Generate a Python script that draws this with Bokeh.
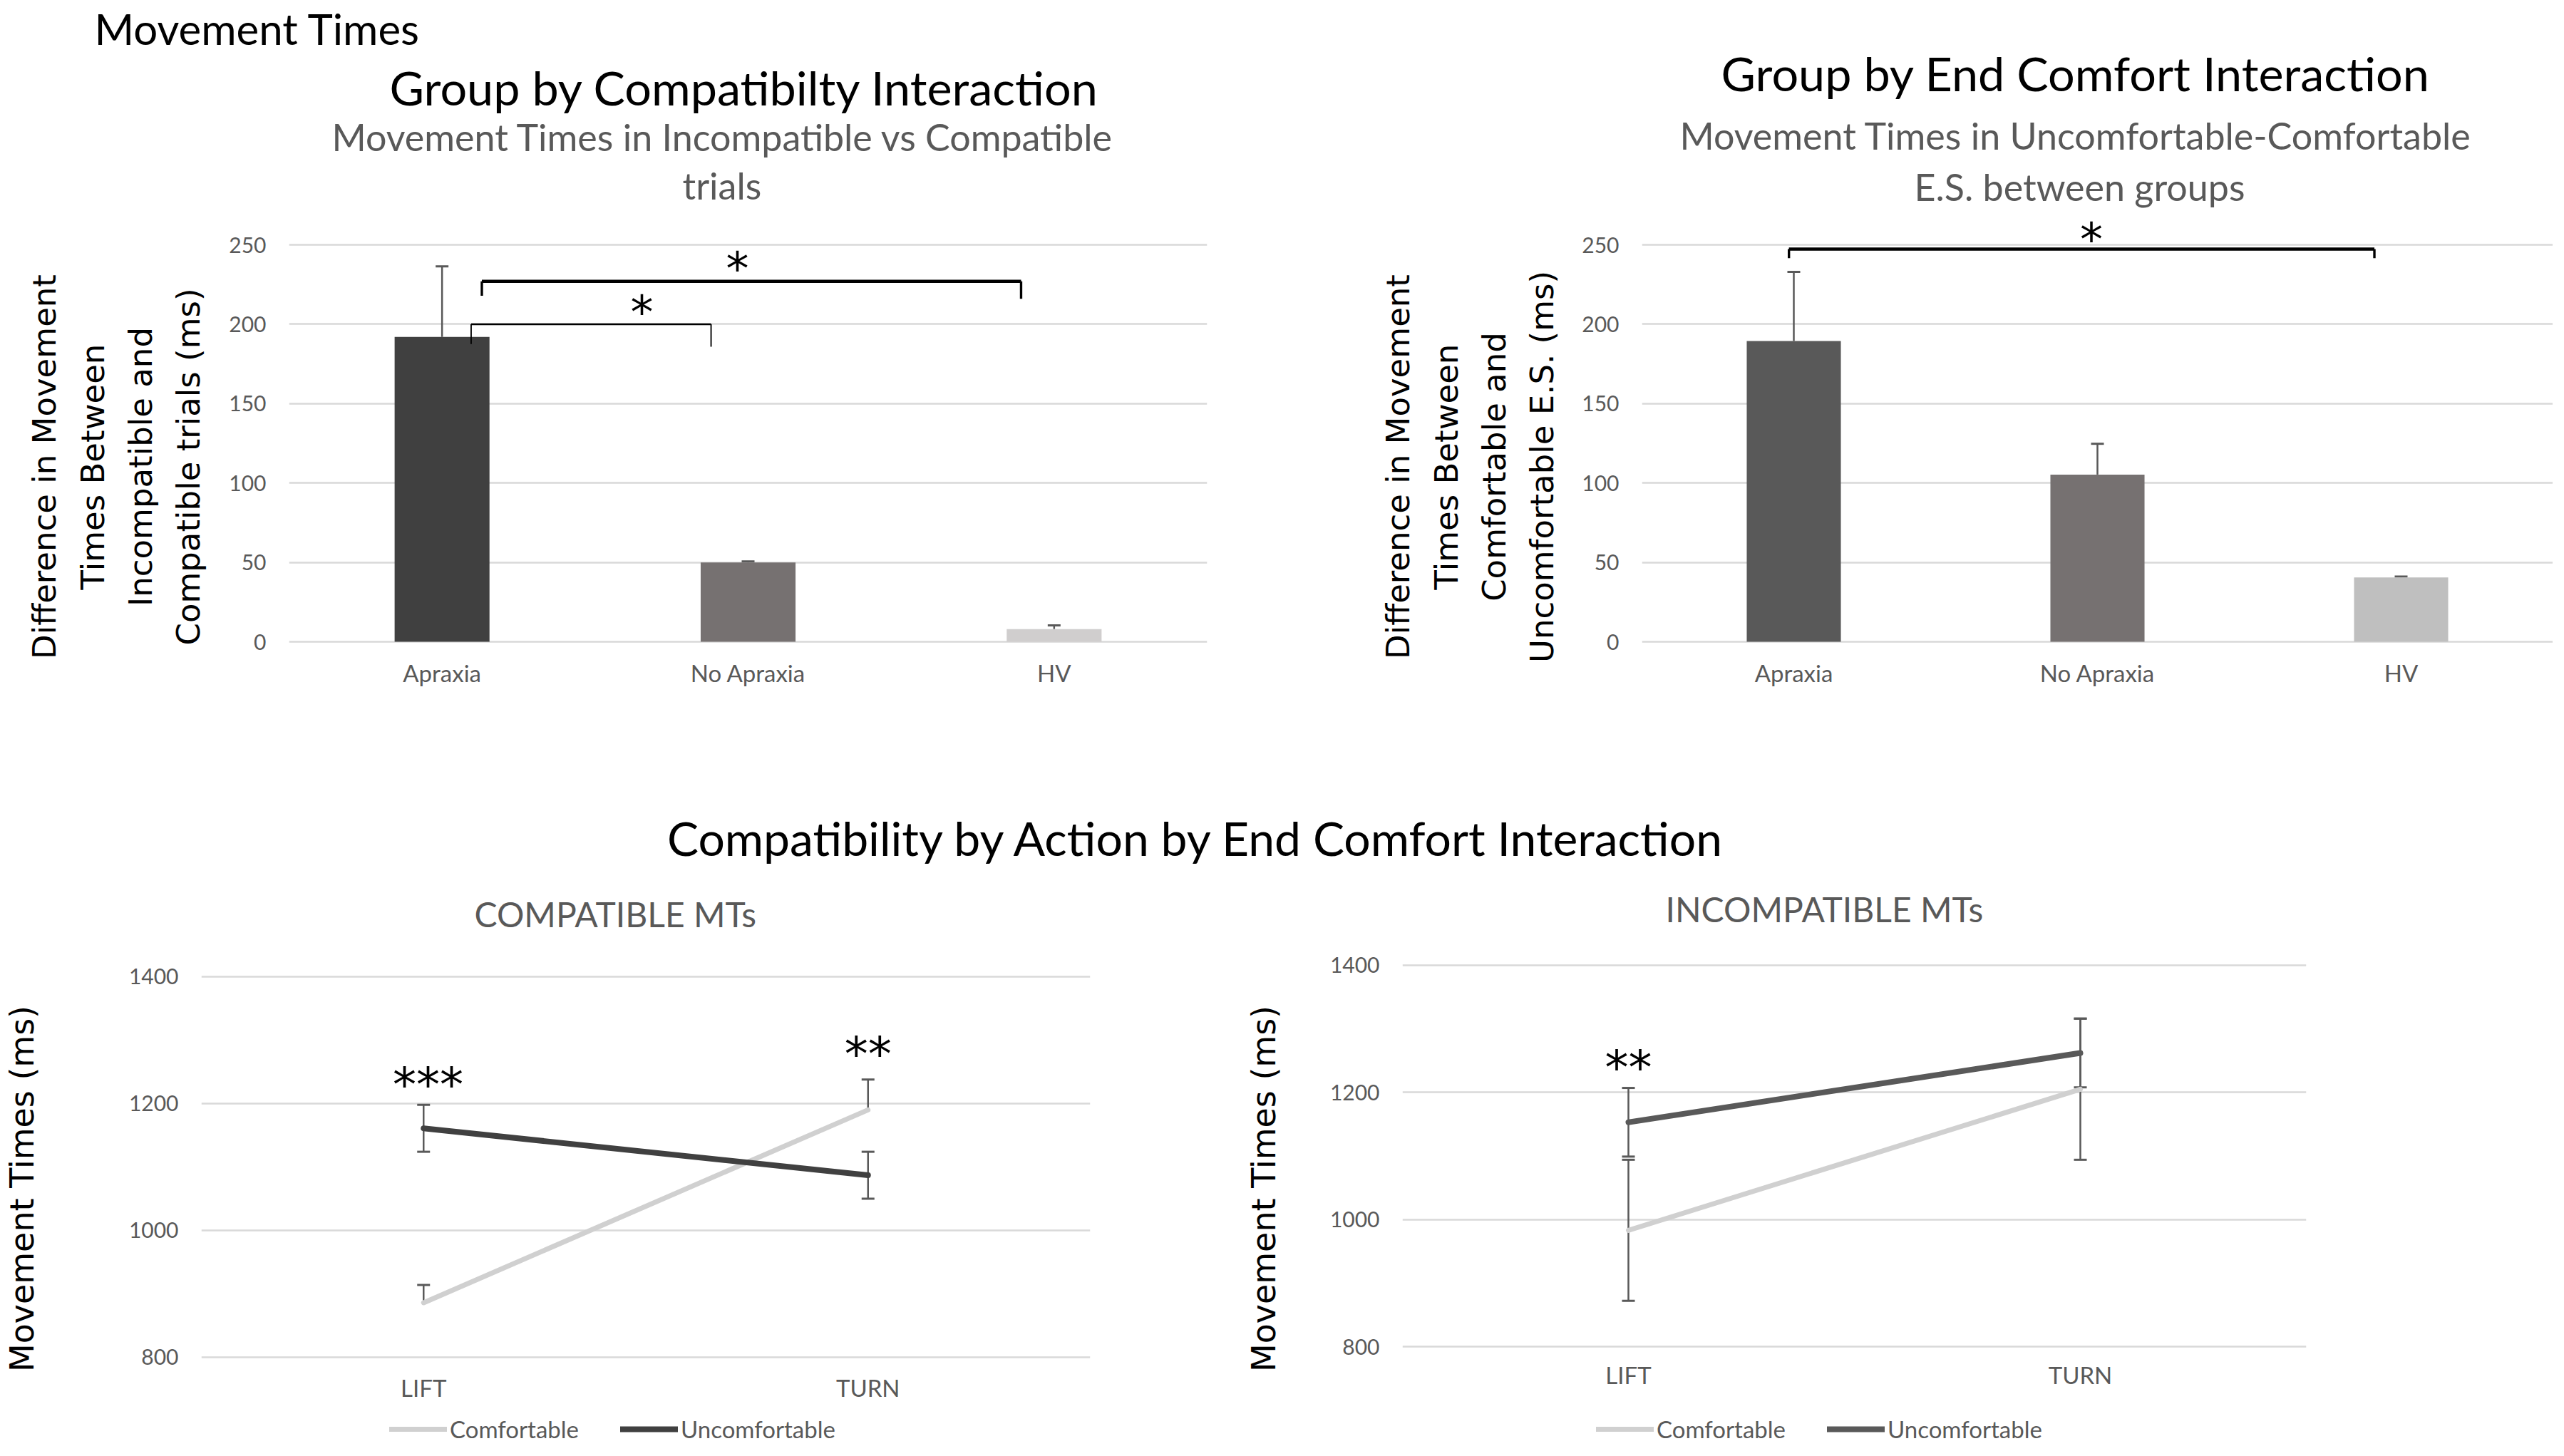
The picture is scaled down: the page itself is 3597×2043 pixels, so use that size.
from bokeh.plotting import figure
from bokeh.models import (Range1d, FixedTicker, Title, Whisker, TeeHead, ColumnDataSource,
                          Legend, LegendItem)
from bokeh.layouts import column, row
from bokeh.embed import file_html
from bokeh.resources import INLINE
from bokeh.core.properties import value
from bokeh.core.validation import silence
from bokeh.core.validation.warnings import MISSING_RENDERERS

silence(MISSING_RENDERERS, True)

LATO = "Lato"
DEJA = "DejaVu Sans"
GRAY_TXT = "#595959"
GRID = "#D9D9D9"
ERR = "#595959"

# ---------------- data ----------------
groups = ["Apraxia", "No Apraxia", "HV"]
compat_diff = [192.0, 50.0, 8.0]
compat_err = [44.4, 0.6, 2.3]
compat_colors = ["#404040", "#767171", "#D0CECE"]

comfort_diff = [189.4, 105.3, 40.5]
comfort_err = [43.5, 19.4, 0.6]
comfort_colors = ["#595959", "#767171", "#BFBFBF"]

bar_ticks = [0, 50, 100, 150, 200, 250]

actions = ["LIFT", "TURN"]
series_names = ["Comfortable", "Uncomfortable"]
compat_comf = [886, 1190]
compat_comf_err = [28, 48]          # plus-only
compat_unc = [1161, 1087]
compat_unc_err = [37, 37]
incomp_comf = [983, 1205]
incomp_comf_err = [111, 111]
incomp_unc = [1153, 1262]
incomp_unc_err = [54, 54]
line_ticks = [800, 1000, 1200, 1400]

# significance brackets (x in category units, y in data units)
tl_br_x0 = [0.095, 0.13]
tl_br_x1 = [0.879, 1.892]
tl_br_y = [200.0, 227.0]
tl_br_leg0 = [187.5, 217.9]
tl_br_leg1 = [185.8, 216.0]
tl_br_w = [2.5, 4.5]
tl_star_x = [0.653, 0.965]
tl_star_y = [207.4, 235.1]
tl_star_txt = ["*", "*"]

tr_br_x0 = [-0.016]
tr_br_x1 = [1.912]
tr_br_y = [247.3]
tr_br_leg0 = [241.6]
tr_br_leg1 = [241.6]
tr_br_w = [4.5]
tr_star_x = [0.98]
tr_star_y = [253.3]
tr_star_txt = ["*"]

bl_star_x = [0.01, 1.0]
bl_star_y = [1228.7, 1278.0]
bl_star_txt = ["***", "**"]

br_star_x = [0.0]
br_star_y = [1239.0]
br_star_txt = ["**"]


# ---------------- helpers ----------------
def base_fig(width, height, xr, yr, mbl, mbr, mbt, mbb):
    p = figure(width=width, height=height, x_range=xr, y_range=yr,
               min_border_left=mbl, min_border_right=mbr,
               min_border_top=mbt, min_border_bottom=mbb,
               output_backend="svg", toolbar_location=None, title=None)
    p.outline_line_color = None
    p.background_fill_color = "white"
    p.border_fill_color = "white"
    return p


def style_axes(p, yticks, xlabels, x_loc, xstand, ylabel, ylabel_size, ylabel_standoff, lh):
    p.xgrid.visible = False
    p.ygrid.ticker = FixedTicker(ticks=yticks)
    p.ygrid.grid_line_color = GRID
    p.ygrid.grid_line_width = 2.5
    p.yaxis.ticker = FixedTicker(ticks=yticks)
    p.xaxis.ticker = FixedTicker(ticks=list(range(len(xlabels))))
    p.xaxis.major_label_overrides = {i: t for i, t in enumerate(xlabels)}
    p.xaxis.fixed_location = x_loc
    for ax in (p.xaxis[0], p.yaxis[0]):
        ax.axis_line_color = None
        ax.major_tick_line_color = None
        ax.minor_tick_line_color = None
        ax.major_tick_out = 0
        ax.major_tick_in = 0
        ax.major_label_text_font = LATO
        ax.major_label_text_color = GRAY_TXT
    p.xaxis.major_label_text_font_size = "33px"
    p.xaxis.major_label_standoff = xstand
    p.yaxis.major_label_text_font_size = "30px"
    p.yaxis.major_label_standoff = 32
    p.yaxis.axis_label = ylabel
    p.yaxis.axis_label_text_font = DEJA
    p.yaxis.axis_label_text_font_size = ylabel_size
    p.yaxis.axis_label_text_font_style = "normal"
    p.yaxis.axis_label_text_color = "black"
    p.yaxis.axis_label_standoff = ylabel_standoff
    p.yaxis.axis_label_text_line_height = lh


def add_title(p, text, size, color, standoff, offset=None):
    if offset is None:
        t = Title(text=text, align="center", standoff=standoff)
    else:
        t = Title(text=text, align="left", offset=offset, standoff=standoff)
    t.text_font = LATO
    t.text_font_size = size
    t.text_color = color
    t.text_font_style = "normal"
    p.add_layout(t, "above")


def add_whiskers(p, base, vals, errs, lower_too):
    upper = [v + e for v, e in zip(vals, errs)]
    lower = [v - e for v, e in zip(vals, errs)] if lower_too else list(vals)
    src = ColumnDataSource(dict(base=base, lower=lower, upper=upper))
    w = Whisker(source=src, base="base", lower="lower", upper="upper",
                line_color=ERR, line_width=2.5,
                upper_head=TeeHead(size=18, line_color=ERR, line_width=3),
                lower_head=TeeHead(size=18, line_color=ERR, line_width=3) if lower_too else None)
    p.add_layout(w)


def add_brackets(p, x0, x1, y, leg0, leg1, widths):
    legw = [w * 0.75 for w in widths]
    p.segment(x0=x0, y0=y, x1=x1, y1=y, line_color="black", line_width=widths)
    p.segment(x0=x0, y0=y, x1=x0, y1=leg0, line_color="black", line_width=legw)
    p.segment(x0=x1, y0=y, x1=x1, y1=leg1, line_color="black", line_width=legw)


def add_stars(p, xs, ys, txt, size):
    p.text(x=xs, y=ys, text=txt, text_font=value(DEJA), text_font_size=size,
           text_align="center", text_baseline="alphabetic", text_color="black")


# ---------------- top row (frames share top/bottom) ----------------
xs3 = list(range(len(groups)))
TOP_YR = (-48.9, 269.3)

tl = base_fig(1842, 1100, Range1d(-0.5, 2.5), Range1d(*TOP_YR), 405, 149, 300, 91)
style_axes(tl, bar_ticks, groups, 0, 23,
           "Difference in Movement\nTimes Between\nIncompatible and\nCompatible trials (ms)",
           "45px", 27, 1.27)
tl.vbar(x=xs3, top=compat_diff, bottom=0, width=0.31, fill_color=compat_colors, line_color=None)
add_whiskers(tl, xs3, compat_diff, compat_err, False)
add_brackets(tl, tl_br_x0, tl_br_x1, tl_br_y, tl_br_leg0, tl_br_leg1, tl_br_w)
add_stars(tl, tl_star_x, tl_star_y, tl_star_txt, "64px")
add_title(tl, "trials", "52px", GRAY_TXT, 20, offset=552)
add_title(tl, "Movement Times in Incompatible vs Compatible", "52px", GRAY_TXT, -13, offset=60)
add_title(tl, "Group by Compatibilty Interaction", "66.5px", "black", 8, offset=141)
add_title(tl, "Movement Times", "60px", "black", 0, offset=-273)

tr = base_fig(1739, 1100, Range1d(-0.5, 2.5), Range1d(*TOP_YR), 461, 0, 300, 91)
style_axes(tr, bar_ticks, groups, 0, 23,
           "Difference in Movement\nTimes Between\nComfortable and\nUncomfortable E.S. (ms)",
           "45px", 26, 1.27)
tr.vbar(x=xs3, top=comfort_diff, bottom=0, width=0.31, fill_color=comfort_colors, line_color=None)
add_whiskers(tr, xs3, comfort_diff, comfort_err, False)
add_brackets(tr, tr_br_x0, tr_br_x1, tr_br_y, tr_br_leg0, tr_br_leg1, tr_br_w)
add_stars(tr, tr_star_x, tr_star_y, tr_star_txt, "64px")
add_title(tr, "E.S. between groups", "52px", GRAY_TXT, 16, offset=382)
add_title(tr, "Movement Times in Uncomfortable-Comfortable", "52px", GRAY_TXT, 0, offset=53)
add_title(tr, "Group by End Comfort Interaction", "66.5px", "black", 29.6, offset=111)

# ---------------- middle heading ----------------
mid = figure(width=3581, height=135, min_border_left=0, min_border_right=223,
             min_border_top=124, min_border_bottom=0, x_axis_location=None,
             y_axis_location=None, output_backend="svg", toolbar_location=None, title=None)
mid.xgrid.visible = False
mid.ygrid.visible = False
mid.outline_line_color = None
add_title(mid, "Compatibility by Action by End Comfort Interaction", "66px", "black", 19)

# ---------------- bottom row (frames share top/bottom) ----------------
xs2 = list(range(len(actions)))


def line_panel(width, xr, yr, mbl, mbr, x_loc, ystand, title, t_standoff, t_offset,
               comf, comf_err, comf_lower, unc, unc_err, unc_color,
               stars_x, stars_y, stars_t, leg_x):
    p = base_fig(width, 800, xr, yr, mbl, mbr, 75, 10)
    style_axes(p, line_ticks, actions, x_loc, -32, "Movement Times (ms)", "46px", ystand, 1.2)
    r1 = p.line(x=xs2, y=comf, line_color="#D0D0D0", line_width=7, line_cap="round")
    r2 = p.line(x=xs2, y=unc, line_color=unc_color, line_width=8, line_cap="round")
    add_whiskers(p, xs2, comf, comf_err, comf_lower)
    add_whiskers(p, xs2, unc, unc_err, True)
    add_stars(p, stars_x, stars_y, stars_t, "66px")
    add_title(p, title, "48px", GRAY_TXT, t_standoff, offset=t_offset)
    leg = Legend(items=[LegendItem(label=series_names[0], renderers=[r1]),
                        LegendItem(label=series_names[1], renderers=[r2])],
                 orientation="horizontal", location=(leg_x, 0), glyph_width=81, glyph_height=30,
                 label_standoff=4, spacing=58, padding=2, margin=0,
                 label_text_font=LATO, label_text_font_size="33px", label_text_color=GRAY_TXT,
                 border_line_color=None, background_fill_alpha=0)
    p.add_layout(leg)
    return p


bl = line_panel(1742, Range1d(-0.5, 1.5), Range1d(664.0, 1467.4), 281, 213, 738.2, 120,
                "COMPATIBLE MTs", 0, 383, compat_comf, compat_comf_err, False,
                compat_unc, compat_unc_err, "#404040", bl_star_x, bl_star_y, bl_star_txt, 264)

br = line_panel(1839, Range1d(-0.5, 1.5), Range1d(647.5, 1449.3), 223, 346, 741.7, 63,
                "INCOMPATIBLE MTs", 12.8, 369, incomp_comf, incomp_comf_err, True,
                incomp_unc, incomp_unc_err, "#595959", br_star_x, br_star_y, br_star_txt, 272)

layout = column(row(tl, tr), mid, row(bl, br))
open("out.html", "w").write(file_html(layout, INLINE, title="Movement Times"))
